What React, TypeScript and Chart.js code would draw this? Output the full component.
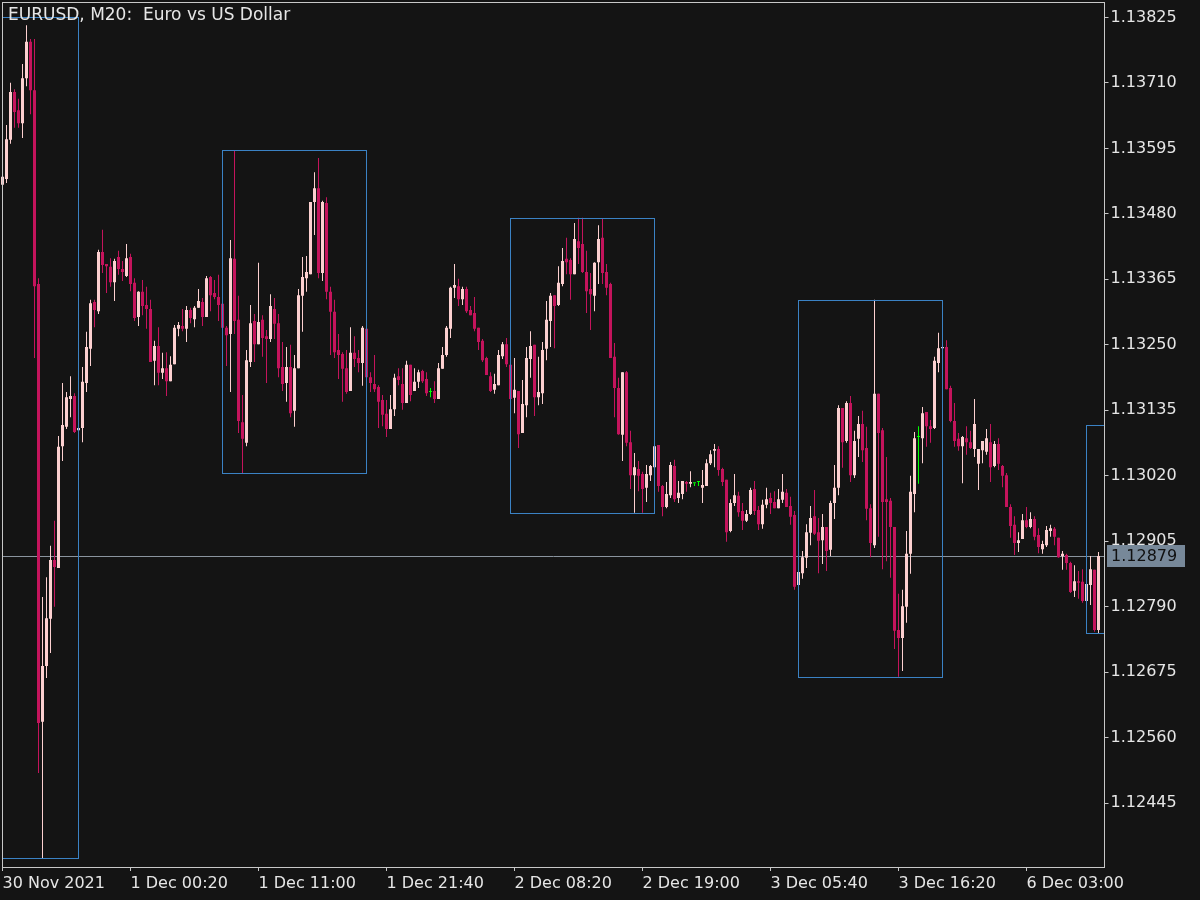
import React, { useEffect, useRef } from "react";
import { Chart, registerables } from "chart.js";

Chart.register(...registerables);

const symbolTitle = "EURUSD, M20:  Euro vs US Dollar";

// 20-minute candles, 30 Nov 2021 13:40 -> 6 Dec 2021 09:20
const opens = [
  1.13531, 1.13541, 1.13610, 1.13694, 1.13662, 1.13639, 1.13718, 1.13782, 1.13697, 1.13357,
  1.12588, 1.12686, 1.12769, 1.12872, 1.12858, 1.13072, 1.13106, 1.13155, 1.13160, 1.13100,
  1.13104, 1.13183, 1.13243, 1.13325, 1.13309, 1.13413, 1.13392, 1.13387, 1.13360, 1.13404,
  1.13383, 1.13371, 1.13404, 1.13359, 1.13299, 1.13343, 1.13320, 1.13313, 1.13222, 1.13248,
  1.13201, 1.13209, 1.13186, 1.13216, 1.13278, 1.13283, 1.13278, 1.13311, 1.13295, 1.13315,
  1.13325, 1.13299, 1.13369, 1.13341, 1.13334, 1.13322, 1.13280, 1.13269, 1.13401, 1.13294,
  1.13114, 1.13078, 1.13220, 1.13292, 1.13251, 1.13294, 1.13265, 1.13260, 1.13313, 1.13288,
  1.13211, 1.13183, 1.13211, 1.13134, 1.13209, 1.13336, 1.13367, 1.13374, 1.13501, 1.13525,
  1.13376, 1.13499, 1.13343, 1.13308, 1.13241, 1.13234, 1.13209, 1.13169, 1.13236, 1.13227,
  1.13218, 1.13278, 1.13193, 1.13181, 1.13176, 1.13153, 1.13129, 1.13102, 1.13137, 1.13195,
  1.13181, 1.13148, 1.13215, 1.13169, 1.13185, 1.13204, 1.13190, 1.13167, 1.13169, 1.13155,
  1.13208, 1.13232, 1.13278, 1.13350, 1.13353, 1.13330, 1.13348, 1.13311, 1.13306, 1.13280,
  1.13257, 1.13227, 1.13195, 1.13171, 1.13179, 1.13230, 1.13251, 1.13215, 1.13157, 1.13169,
  1.13095, 1.13144, 1.13225, 1.13250, 1.13158, 1.13165, 1.13243, 1.13292, 1.13337, 1.13320,
  1.13357, 1.13401, 1.13399, 1.13374, 1.13432, 1.13427, 1.13378, 1.13348, 1.13336, 1.13395,
  1.13438, 1.13378, 1.13357, 1.13229, 1.13174, 1.13092, 1.13202, 1.13079, 1.13021, 1.13032,
  1.13023, 1.12999, 1.13021, 1.13035, 1.13074, 1.13002, 1.12965, 1.12986, 1.13037, 1.12981,
  1.12988, 1.13009, 1.13006, 1.13007, 1.13009, 1.12999, 1.13002, 1.13042, 1.13064, 1.13067,
  1.13032, 1.13013, 1.12923, 1.12972, 1.12985, 1.12958, 1.12941, 1.12953, 1.12997, 1.12960,
  1.12935, 1.12969, 1.12981, 1.12974, 1.12963, 1.12978, 1.12990, 1.12967, 1.12951, 1.12828,
  1.12849, 1.12876, 1.12920, 1.12949, 1.12921, 1.12907, 1.12930, 1.12890, 1.12972, 1.12999,
  1.13139, 1.13081, 1.13148, 1.13021, 1.13085, 1.13111, 1.13069, 1.12963, 1.12898, 1.13164,
  1.13100, 1.12979, 1.12976, 1.12930, 1.12749, 1.12735, 1.12790, 1.12883, 1.12988, 1.13088,
  1.13086, 1.13132, 1.13107, 1.13104, 1.13218, 1.13244, 1.13246, 1.13174, 1.13116, 1.13085,
  1.13072, 1.13086, 1.13079, 1.13067, 1.13041, 1.13065, 1.13062, 1.13079, 1.13037, 1.13076,
  1.13037, 1.13021, 1.12965, 1.12934, 1.12902, 1.12909, 1.12942, 1.12930, 1.12944, 1.12916,
  1.12891, 1.12898, 1.12923, 1.12927, 1.12911, 1.12879, 1.12881, 1.12867, 1.12818, 1.12835,
  1.12834, 1.12800, 1.12828, 1.12855, 1.12749,
];

const highs = [
  1.13548, 1.13636, 1.13710, 1.13699, 1.13682, 1.13743, 1.13811, 1.13787, 1.13787, 1.13367,
  1.12807, 1.12842, 1.12897, 1.12941, 1.13090, 1.13183, 1.13167, 1.13195, 1.13165, 1.13106,
  1.13211, 1.13273, 1.13329, 1.13329, 1.13417, 1.13452, 1.13392, 1.13402, 1.13401, 1.13415,
  1.13397, 1.13427, 1.13410, 1.13367, 1.13344, 1.13364, 1.13352, 1.13329, 1.13257, 1.13281,
  1.13236, 1.13237, 1.13230, 1.13285, 1.13290, 1.13313, 1.13318, 1.13315, 1.13318, 1.13348,
  1.13332, 1.13371, 1.13371, 1.13364, 1.13373, 1.13322, 1.13283, 1.13434, 1.13592, 1.13336,
  1.13162, 1.13241, 1.13320, 1.13304, 1.13394, 1.13302, 1.13276, 1.13339, 1.13332, 1.13304,
  1.13255, 1.13246, 1.13250, 1.13232, 1.13348, 1.13404, 1.13406, 1.13501, 1.13553, 1.13578,
  1.13503, 1.13509, 1.13352, 1.13329, 1.13269, 1.13237, 1.13241, 1.13281, 1.13265, 1.13241,
  1.13283, 1.13278, 1.13202, 1.13232, 1.13179, 1.13162, 1.13153, 1.13162, 1.13199, 1.13209,
  1.13209, 1.13222, 1.13215, 1.13209, 1.13206, 1.13206, 1.13202, 1.13174, 1.13186, 1.13218,
  1.13246, 1.13283, 1.13352, 1.13392, 1.13366, 1.13352, 1.13352, 1.13318, 1.13334, 1.13280,
  1.13260, 1.13229, 1.13202, 1.13199, 1.13241, 1.13255, 1.13262, 1.13215, 1.13227, 1.13169,
  1.13188, 1.13246, 1.13274, 1.13250, 1.13229, 1.13255, 1.13327, 1.13341, 1.13337, 1.13388,
  1.13420, 1.13438, 1.13402, 1.13464, 1.13473, 1.13473, 1.13415, 1.13376, 1.13395, 1.13460,
  1.13471, 1.13392, 1.13359, 1.13253, 1.13192, 1.13202, 1.13204, 1.13099, 1.13060, 1.13046,
  1.13027, 1.13039, 1.13039, 1.13072, 1.13074, 1.13004, 1.13009, 1.13044, 1.13048, 1.13011,
  1.13011, 1.13011, 1.13028, 1.13007, 1.13011, 1.13030, 1.13049, 1.13065, 1.13076, 1.13072,
  1.13034, 1.13013, 1.12979, 1.13023, 1.12992, 1.12972, 1.12960, 1.12999, 1.13011, 1.12967,
  1.12978, 1.12999, 1.12990, 1.12993, 1.12997, 1.13023, 1.12997, 1.12983, 1.12958, 1.12855,
  1.12888, 1.12935, 1.12967, 1.12995, 1.12946, 1.12953, 1.12930, 1.12976, 1.13039, 1.13144,
  1.13139, 1.13151, 1.13160, 1.13099, 1.13125, 1.13134, 1.13106, 1.12970, 1.13329, 1.13164,
  1.13104, 1.13053, 1.12981, 1.12930, 1.12813, 1.12820, 1.12923, 1.13020, 1.13097, 1.13107,
  1.13141, 1.13132, 1.13118, 1.13229, 1.13271, 1.13250, 1.13258, 1.13178, 1.13148, 1.13095,
  1.13090, 1.13107, 1.13099, 1.13155, 1.13067, 1.13081, 1.13102, 1.13111, 1.13081, 1.13086,
  1.13039, 1.13025, 1.12970, 1.12949, 1.12921, 1.12953, 1.12965, 1.12956, 1.12949, 1.12928,
  1.12906, 1.12932, 1.12934, 1.12930, 1.12911, 1.12888, 1.12883, 1.12869, 1.12863, 1.12853,
  1.12856, 1.12832, 1.12879, 1.12855, 1.12886,
];

const lows = [
  1.13527, 1.13534, 1.13603, 1.13631, 1.13631, 1.13613, 1.13704, 1.13655, 1.13227, 1.12498,
  1.12349, 1.12665, 1.12709, 1.12790, 1.12858, 1.13046, 1.13102, 1.13123, 1.13095, 1.13099,
  1.13079, 1.13167, 1.13213, 1.13281, 1.13304, 1.13376, 1.13341, 1.13352, 1.13327, 1.13373,
  1.13362, 1.13369, 1.13344, 1.13292, 1.13283, 1.13302, 1.13278, 1.13220, 1.13179, 1.13179,
  1.13190, 1.13160, 1.13186, 1.13216, 1.13265, 1.13274, 1.13255, 1.13288, 1.13281, 1.13315,
  1.13283, 1.13299, 1.13309, 1.13330, 1.13292, 1.13280, 1.13213, 1.13167, 1.13269, 1.13095,
  1.13025, 1.13072, 1.13211, 1.13220, 1.13251, 1.13229, 1.13183, 1.13255, 1.13260, 1.13193,
  1.13169, 1.13150, 1.13123, 1.13106, 1.13209, 1.13273, 1.13343, 1.13374, 1.13443, 1.13367,
  1.13362, 1.13330, 1.13232, 1.13227, 1.13190, 1.13150, 1.13164, 1.13169, 1.13211, 1.13202,
  1.13178, 1.13193, 1.13167, 1.13167, 1.13104, 1.13107, 1.13088, 1.13102, 1.13125, 1.13179,
  1.13136, 1.13148, 1.13151, 1.13169, 1.13174, 1.13183, 1.13160, 1.13158, 1.13148, 1.13155,
  1.13208, 1.13229, 1.13262, 1.13332, 1.13318, 1.13320, 1.13306, 1.13302, 1.13274, 1.13241,
  1.13220, 1.13197, 1.13167, 1.13164, 1.13179, 1.13225, 1.13211, 1.13155, 1.13130, 1.13069,
  1.13095, 1.13123, 1.13192, 1.13125, 1.13144, 1.13146, 1.13223, 1.13246, 1.13244, 1.13318,
  1.13353, 1.13374, 1.13329, 1.13374, 1.13392, 1.13376, 1.13306, 1.13276, 1.13309, 1.13357,
  1.13357, 1.13337, 1.13227, 1.13123, 1.13092, 1.13046, 1.13072, 1.12997, 1.12955, 1.12993,
  1.12955, 1.12974, 1.13011, 1.13035, 1.12992, 1.12949, 1.12963, 1.12981, 1.12974, 1.12972,
  1.12979, 1.12992, 1.13000, 1.13002, 1.13002, 1.12972, 1.13002, 1.13039, 1.13035, 1.13020,
  1.13002, 1.12904, 1.12921, 1.12967, 1.12948, 1.12925, 1.12939, 1.12951, 1.12951, 1.12925,
  1.12927, 1.12963, 1.12953, 1.12963, 1.12963, 1.12972, 1.12965, 1.12934, 1.12820, 1.12822,
  1.12839, 1.12858, 1.12898, 1.12916, 1.12849, 1.12865, 1.12853, 1.12879, 1.12944, 1.12986,
  1.13034, 1.13078, 1.13009, 1.13016, 1.13053, 1.13044, 1.12942, 1.12877, 1.12893, 1.12913,
  1.12856, 1.12870, 1.12841, 1.12716, 1.12667, 1.12677, 1.12762, 1.12848, 1.12956, 1.13006,
  1.13042, 1.13071, 1.13078, 1.13102, 1.13202, 1.13241, 1.13172, 1.13114, 1.13071, 1.13064,
  1.13007, 1.13057, 1.13067, 1.13053, 1.12995, 1.13042, 1.13057, 1.13009, 1.13035, 1.13030,
  1.13000, 1.12965, 1.12911, 1.12881, 1.12886, 1.12909, 1.12928, 1.12928, 1.12907, 1.12884,
  1.12883, 1.12895, 1.12913, 1.12898, 1.12876, 1.12855, 1.12855, 1.12814, 1.12807, 1.12804,
  1.12797, 1.12797, 1.12793, 1.12746, 1.12744,
];

const closes = [
  1.13545, 1.13611, 1.13694, 1.13659, 1.13639, 1.13718, 1.13782, 1.13697, 1.13353, 1.12586,
  1.12686, 1.12770, 1.12872, 1.12860, 1.13071, 1.13109, 1.13158, 1.13160, 1.13097, 1.13104,
  1.13185, 1.13246, 1.13323, 1.13311, 1.13413, 1.13390, 1.13388, 1.13360, 1.13397, 1.13383,
  1.13378, 1.13402, 1.13357, 1.13297, 1.13343, 1.13318, 1.13313, 1.13220, 1.13248, 1.13201,
  1.13209, 1.13186, 1.13215, 1.13280, 1.13285, 1.13278, 1.13311, 1.13297, 1.13315, 1.13327,
  1.13299, 1.13367, 1.13337, 1.13334, 1.13320, 1.13280, 1.13267, 1.13402, 1.13292, 1.13116,
  1.13085, 1.13223, 1.13288, 1.13251, 1.13290, 1.13262, 1.13260, 1.13318, 1.13287, 1.13209,
  1.13181, 1.13211, 1.13130, 1.13209, 1.13337, 1.13369, 1.13378, 1.13501, 1.13525, 1.13376,
  1.13501, 1.13343, 1.13308, 1.13237, 1.13232, 1.13208, 1.13167, 1.13236, 1.13225, 1.13218,
  1.13280, 1.13193, 1.13183, 1.13172, 1.13150, 1.13127, 1.13102, 1.13137, 1.13192, 1.13188,
  1.13148, 1.13215, 1.13162, 1.13185, 1.13202, 1.13186, 1.13165, 1.13167, 1.13155, 1.13209,
  1.13232, 1.13280, 1.13350, 1.13355, 1.13330, 1.13348, 1.13309, 1.13302, 1.13278, 1.13255,
  1.13223, 1.13197, 1.13169, 1.13181, 1.13232, 1.13251, 1.13216, 1.13155, 1.13171, 1.13093,
  1.13146, 1.13227, 1.13248, 1.13158, 1.13167, 1.13241, 1.13294, 1.13336, 1.13318, 1.13359,
  1.13397, 1.13395, 1.13374, 1.13436, 1.13420, 1.13378, 1.13344, 1.13339, 1.13394, 1.13436,
  1.13376, 1.13350, 1.13227, 1.13174, 1.13093, 1.13202, 1.13078, 1.13021, 1.13035, 1.13020,
  1.12997, 1.13023, 1.13037, 1.13072, 1.13002, 1.12965, 1.12988, 1.13039, 1.12979, 1.12990,
  1.13011, 1.13006, 1.13009, 1.13007, 1.13009, 1.13004, 1.13042, 1.13058, 1.13067, 1.13030,
  1.13009, 1.12921, 1.12972, 1.12986, 1.12956, 1.12941, 1.12953, 1.12995, 1.12958, 1.12935,
  1.12969, 1.12979, 1.12972, 1.12963, 1.12979, 1.12992, 1.12965, 1.12948, 1.12825, 1.12851,
  1.12877, 1.12921, 1.12946, 1.12918, 1.12906, 1.12930, 1.12888, 1.12972, 1.12999, 1.13139,
  1.13079, 1.13148, 1.13021, 1.13081, 1.13111, 1.13065, 1.12962, 1.12902, 1.13164, 1.13095,
  1.12974, 1.12974, 1.12930, 1.12748, 1.12735, 1.12791, 1.12883, 1.12992, 1.13086, 1.13088,
  1.13130, 1.13107, 1.13102, 1.13222, 1.13244, 1.13246, 1.13172, 1.13116, 1.13081, 1.13072,
  1.13088, 1.13079, 1.13069, 1.13111, 1.13067, 1.13081, 1.13086, 1.13035, 1.13076, 1.13041,
  1.13020, 1.12965, 1.12932, 1.12902, 1.12907, 1.12942, 1.12930, 1.12944, 1.12913, 1.12895,
  1.12900, 1.12925, 1.12928, 1.12913, 1.12877, 1.12883, 1.12867, 1.12816, 1.12835, 1.12832,
  1.12800, 1.12830, 1.12856, 1.12749, 1.12879,
];

// one time slot per candle plus one empty slot at the right edge
const slotCount = 276;
const categories = Array.from({ length: slotCount }, (_, i) => String(i));

const xTickStep = 32;
const xTickLabels = [
  "30 Nov 2021", "1 Dec 00:20", "1 Dec 11:00", "1 Dec 21:40", "2 Dec 08:20",
  "2 Dec 19:00", "3 Dec 05:40", "3 Dec 16:20", "6 Dec 03:00",
];

const yTicks = [
  1.13825, 1.1371, 1.13595, 1.1348, 1.13365, 1.1325, 1.13135,
  1.1302, 1.12905, 1.1279, 1.12675, 1.1256, 1.12445,
];
const yMin = 1.12333;
const yMax = 1.13852;

// session boxes (08:00 - 20:00), in candle slots
const sessionStart = [-17, 55, 127, 199, 271];
const sessionEnd = [19, 91, 163, 235, 307];
const sessionHigh = [1.13825, 1.13592, 1.13473, 1.13329, 1.13109];
const sessionLow = [1.12349, 1.13025, 1.12955, 1.12667, 1.12744];

const bidPrice = 1.12879;

const BG = "#141414";
const BULL = "#fcd0d0";
const BEAR = "#c4145c";
const DOJI = "#00ff00";
const FRAME = "#c8c8c8";
const TEXT = "#e6e6e6";
const BOX = "#3b82c4";
const BID = "#778899";
const BID_LINE = "#8a949e";
const FONT = '"DejaVu Sans", sans-serif';

export default function App() {
  const ref = useRef<HTMLCanvasElement>(null);

  useEffect(() => {
    const canvas = ref.current;
    if (!canvas) return;

    const barColors = opens.map((o, i) =>
      closes[i] > o ? BULL : closes[i] < o ? BEAR : DOJI
    );

    const overlay = {
      id: "mtOverlay",
      beforeDraw(chart: any) {
        const { ctx, width, height } = chart;
        ctx.save();
        ctx.fillStyle = BG;
        ctx.fillRect(0, 0, width, height);
        ctx.restore();
      },
      beforeDatasetsDraw(chart: any) {
        const { ctx, chartArea: a, scales } = chart;
        const py = Math.round(scales.y.getPixelForValue(bidPrice)) + 0.5;
        ctx.save();
        ctx.strokeStyle = BID_LINE;
        ctx.lineWidth = 1;
        ctx.beginPath();
        ctx.moveTo(a.left + 2, py);
        ctx.lineTo(a.right, py);
        ctx.stroke();
        ctx.restore();
      },
      afterDatasetsDraw(chart: any) {
        const { ctx, chartArea: a, scales } = chart;
        ctx.save();
        ctx.beginPath();
        ctx.rect(a.left + 2, a.top, a.right - a.left - 2, a.bottom - a.top);
        ctx.clip();
        ctx.strokeStyle = BOX;
        ctx.lineWidth = 1;
        for (let k = 0; k < sessionStart.length; k++) {
          const x1 = scales.x.getPixelForValue(sessionStart[k]);
          const x2 = scales.x.getPixelForValue(sessionEnd[k]);
          const y1 = Math.round(scales.y.getPixelForValue(sessionHigh[k])) + 0.5;
          const y2 = Math.round(scales.y.getPixelForValue(sessionLow[k])) + 0.5;
          ctx.strokeRect(x1, y1, x2 - x1, y2 - y1);
        }
        ctx.restore();
      },
      afterDraw(chart: any) {
        const { ctx, chartArea: a, scales } = chart;
        ctx.save();
        // frame
        ctx.strokeStyle = FRAME;
        ctx.lineWidth = 1;
        ctx.strokeRect(a.left + 2, a.top + 0.5, a.right - a.left - 2, a.bottom - a.top);
        // bid label
        const py = Math.round(scales.y.getPixelForValue(bidPrice));
        ctx.fillStyle = BID;
        ctx.fillRect(a.right + 2.5, py - 11, 78, 22);
        ctx.fillStyle = "#111111";
        ctx.font = `16px ${FONT}`;
        ctx.textBaseline = "middle";
        ctx.textAlign = "left";
        ctx.fillText(bidPrice.toFixed(5), a.right + 6.5, py + 1);
        // title
        ctx.fillStyle = TEXT;
        ctx.font = `17px ${FONT}`;
        ctx.fillText(symbolTitle, a.left + 7.5, a.top + 14);
        ctx.restore();
      },
    };

    const chart = new Chart(canvas, {
      type: "bar",
      data: {
        labels: categories,
        datasets: [
          {
            label: "body",
            data: opens.map((o, i) => [o, closes[i]]) as any,
            backgroundColor: barColors,
            barThickness: 3,
            grouped: false,
            minBarLength: 1,
            inflateAmount: 0,
            borderWidth: 0,
            order: 0,
          } as any,
          {
            label: "wick",
            data: lows.map((l, i) => [l, highs[i]]) as any,
            backgroundColor: barColors,
            barThickness: 1,
            grouped: false,
            inflateAmount: 0,
            borderWidth: 0,
            order: 1,
          } as any,
        ],
      },
      options: {
        animation: false,
        responsive: false,
        devicePixelRatio: 1,
        events: [],
        layout: { padding: { left: 0.5, top: 2, right: 0, bottom: 0 } },
        plugins: {
          legend: { display: false },
          tooltip: { enabled: false },
          title: { display: false },
        },
        scales: {
          x: {
            type: "category",
            offset: true,
            afterBuildTicks: (s: any) => {
              s.ticks = xTickLabels.map((_, k) => ({ value: k * xTickStep }));
            },
            afterFit: (s: any) => {
              s.height = 33;
              s.paddingLeft = 0;
              s.paddingRight = 0;
            },
            ticks: {
              autoSkip: false,
              maxRotation: 0,
              minRotation: 0,
              align: "start",
              color: TEXT,
              padding: 3,
              font: { family: FONT, size: 16 },
              callback: (_v: any, idx: number) => xTickLabels[idx],
            },
            grid: {
              display: true,
              drawOnChartArea: false,
              drawTicks: true,
              offset: false,
              tickLength: 4,
              color: FRAME,
            },
            border: { display: false },
          },
          y: {
            type: "linear",
            position: "right",
            min: yMin,
            max: yMax,
            afterBuildTicks: (s: any) => {
              s.ticks = yTicks.map((v) => ({ value: v }));
            },
            afterFit: (s: any) => {
              s.width = 95.5;
              s.paddingTop = 0;
              s.paddingBottom = 0;
            },
            ticks: {
              color: TEXT,
              padding: 2,
              font: { family: FONT, size: 16 },
              callback: (v: any) => Number(v).toFixed(5),
            },
            grid: {
              display: true,
              drawOnChartArea: false,
              drawTicks: true,
              tickLength: 4,
              color: FRAME,
            },
            border: { display: false },
          },
        },
      } as any,
      plugins: [overlay],
    });

    return () => chart.destroy();
  }, []);

  return (
    <div
      style={{
        position: "fixed",
        left: 0,
        top: 0,
        width: 1200,
        height: 900,
        background: BG,
      }}
    >
      <canvas
        ref={ref}
        width={1200}
        height={900}
        style={{ display: "block", width: 1200, height: 900 }}
      />
    </div>
  );
}
